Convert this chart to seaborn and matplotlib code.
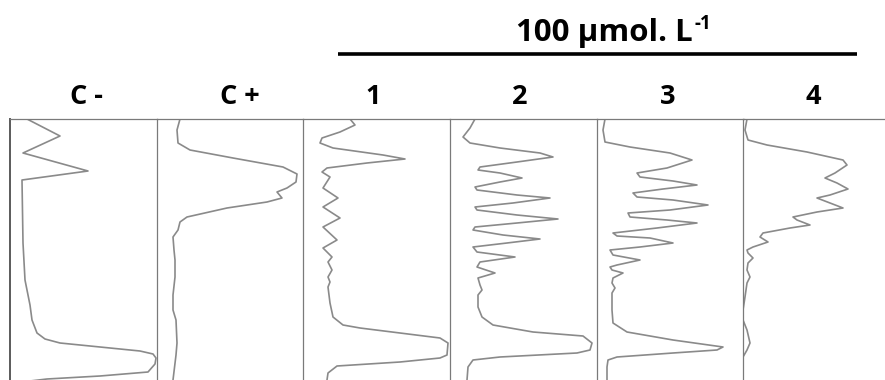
import matplotlib
matplotlib.use("Agg")
import matplotlib.pyplot as plt
import seaborn as sns
import pandas as pd
from matplotlib.lines import Line2D

# ---- data: densitometric lane profiles (position from origin, relative intensity) ----
lane_names = ["C -", "C +", "1", "2", "3", "4"]
group_title = "100 µmol. L"
group_title_sup = "-1"

cneg_pos = [0, 17, 34, 52, 61, 124, 161, 186, 201, 214, 220, 224, 228, 232, 235, 239, 245, 253, 257, 260, 262]
cneg_int = [17, 50, 13, 78, 12, 13, 15, 20, 22, 27, 35, 50, 90, 130, 143, 146, 145, 138, 90, 37, 20]

cpos_pos = [0, 11, 24, 31, 39, 48, 55, 63, 69, 73, 79, 83, 89, 98, 103, 111, 118, 131, 141, 158, 176, 191, 201, 224, 236, 261]
cpos_int = [23, 20, 21, 33, 76, 126, 140, 139, 130, 120, 125, 110, 70, 30, 23, 21, 16, 17, 18, 18, 16, 16, 19, 20, 19, 16]

l1_pos = [0, 6, 13, 19, 24, 29, 36, 40, 44, 49, 53, 58, 69, 79, 88, 99, 108, 121, 129, 138, 143, 151, 158, 163, 168,
          184, 198, 206, 209, 214, 219, 224, 236, 239, 243, 247, 254, 261]
l1_int = [47, 52, 37, 19, 17, 30, 80, 102, 64, 24, 19, 27, 20, 35, 20, 37, 20, 34, 20, 29, 25, 29, 25, 27, 25,
          27, 30, 40, 57, 97, 137, 145, 144, 137, 97, 34, 25, 24]

l2_pos = [0, 9, 18, 24, 29, 34, 38, 43, 48, 51, 54, 59, 63, 68, 71, 76, 79, 84, 88, 91, 96, 100, 104, 108, 111, 116,
          120, 124, 128, 133, 138, 143, 148, 154, 159, 166, 171, 176, 188, 198, 206, 213, 217, 224, 231, 234, 238,
          241, 248, 261]
l2_int = [25, 20, 13, 20, 50, 90, 103, 67, 30, 28, 50, 72, 50, 25, 27, 67, 100, 63, 25, 27, 67, 108, 67, 25, 23, 53,
          90, 57, 23, 27, 65, 30, 27, 45, 28, 30, 32, 28, 28, 32, 43, 83, 133, 142, 140, 127, 50,
          23, 18, 17]

l3_pos = [0, 11, 23, 28, 34, 41, 49, 54, 58, 62, 66, 70, 74, 78, 81, 86, 91, 94, 98, 101, 104, 109, 114, 117, 119,
          124, 128, 131, 136, 141, 146, 148, 151, 154, 159, 164, 169, 174, 179, 191, 204, 213, 221, 228, 231, 234,
          238, 241, 248, 261]
l3_int = [8, 6, 8, 33, 73, 95, 70, 40, 43, 76, 100, 66, 36, 40, 76, 111, 73, 31, 33, 70, 100, 60, 16, 20, 53,
          76, 43, 13, 16, 43, 20, 13, 15, 26, 16, 15, 18, 15, 15, 15, 16, 30, 76, 126, 120, 76,
          20, 11, 10, 10]

l4_pos = [0, 11, 21, 26, 33, 41, 46, 54, 59, 64, 70, 76, 79, 84, 89, 93, 98, 101, 106, 109, 114, 118, 123, 128, 131,
          134, 139, 144, 151, 158, 164, 178, 191, 201, 211, 224, 231, 238, 244, 261]
l4_int = [4, 2, 5, 24, 64, 100, 104, 92, 82, 94, 105, 87, 74, 87, 100, 74, 50, 54, 67, 47, 20, 17, 25, 10, 4,
          5, 10, 5, 4, 7, 4, 2, 0, 0, 4, 7, 4, 0, 0, 0]

lanes = [(cneg_pos, cneg_int), (cpos_pos, cpos_int), (l1_pos, l1_int),
         (l2_pos, l2_int), (l3_pos, l3_int), (l4_pos, l4_int)]

# ---- layout / style ----
W, H = 885, 380
sns.set_style("white")
plt.rcParams["font.family"] = ["Open Sans", "DejaVu Sans"]

fig = plt.figure(figsize=(W / 100, H / 100), dpi=100)

panel_left = [10, 157, 303, 450, 597, 743]
panel_w = 146.5
frame_top = 119
line_col = "#8a8a8a"
frame_col = "#7a7a7a"

for i, ((pos, inten), name) in enumerate(zip(lanes, lane_names)):
    ax = fig.add_axes([panel_left[i] / W, 0, panel_w / W, (H - frame_top) / H])
    df = pd.DataFrame({"intensity": inten, "position": pos})
    sns.lineplot(data=df, x="intensity", y="position", sort=False, estimator=None,
                 ax=ax, color=line_col, linewidth=1.2)
    ax.set_xlim(0, panel_w)
    ax.set_ylim(H - frame_top, 0)
    ax.set_xticks([])
    ax.set_yticks([])
    ax.set_xlabel("")
    ax.set_ylabel("")
    ax.patch.set_alpha(0)
    for s in ["right", "bottom"]:
        ax.spines[s].set_visible(False)
    ax.spines["top"].set_color(frame_col)
    ax.spines["top"].set_linewidth(0.9)
    ax.spines["left"].set_color("#5a5a5a" if i == 0 else frame_col)
    ax.spines["left"].set_linewidth(1.4 if i == 0 else 0.9)

# lane labels
label_x = [86, 240, 373, 520, 668, 813]
for x, name in zip(label_x, lane_names):
    fig.text(x / W, 1 - 104 / H, name, ha="center", va="baseline",
             fontsize=19.5, fontweight="bold", color="black")

# group header (centered at x ~ 613 including superscript)
t = fig.text(0, 1 - 41 / H, group_title, ha="left", va="baseline",
             fontsize=22.5, fontweight="bold", color="black")
ts = fig.text(0, 1 - 29 / H, group_title_sup, ha="left", va="baseline",
              fontsize=13.5, fontweight="bold", color="black")
fig.canvas.draw()
w_main = t.get_window_extent().width
w_sup = ts.get_window_extent().width
x0 = 613.5 - (w_main + 1 + w_sup) / 2
t.set_x(x0 / W)
ts.set_x((x0 + w_main + 1) / W)

fig.add_artist(Line2D([338 / W, 857 / W], [1 - 53.5 / H, 1 - 53.5 / H], color="black",
                      linewidth=2.6, solid_capstyle="butt", transform=fig.transFigure))

fig.savefig("out.png", dpi=100)
